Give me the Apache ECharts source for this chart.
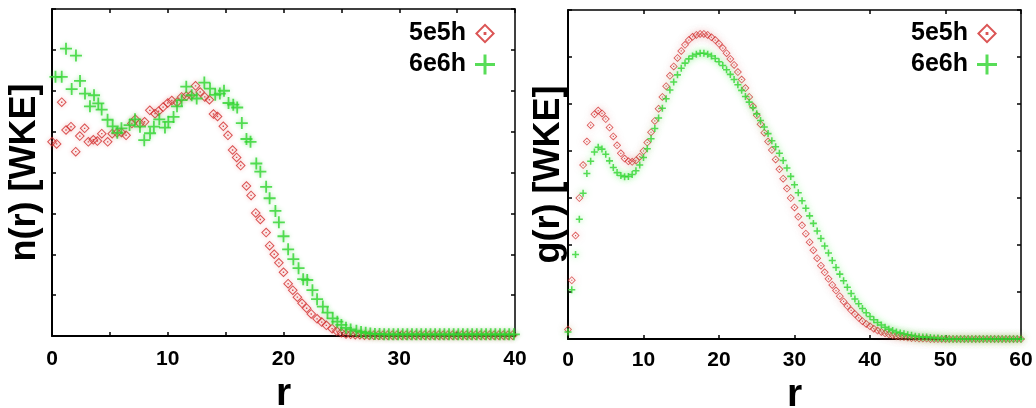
<!DOCTYPE html>
<html>
<head>
<meta charset="utf-8">
<script src="https://cdn.jsdelivr.net/npm/echarts@6/dist/echarts.min.js"></script>
<style>
  html, body { margin: 0; padding: 0; background: #fff; }
  #chart { width: 1036px; height: 408px; }
</style>
</head>
<body>
<div id="chart"></div>
<script>
// Series names shared by both panels
const seriesNames = ['5e5h', '6e6h'];

// Left panel: n(r) samples, 5e5h
const nR_5e5h = [0.0, 0.4, 0.84, 1.21, 1.64, 2.05, 2.4, 2.82, 3.14, 3.57, 3.92, 4.3, 4.81, 5.2, 5.62, 6.0, 6.4, 6.9, 7.2, 7.6,
  8.0, 8.45, 8.9, 9.2, 9.6, 10.0, 10.35, 10.8, 11.2, 11.6, 12.0, 12.4, 12.8, 13.2, 13.6, 13.95, 14.3, 14.8, 15.2, 15.6,
  15.95, 16.3, 16.8, 17.2, 17.6, 18.0, 18.5, 18.8, 19.2, 19.6, 20.0, 20.4, 20.8, 21.2, 21.6, 22.0, 22.4, 22.9, 23.3, 23.7,
  24.2, 24.6, 25.0, 25.4,
  25.8, 26.2, 26.6, 27.0, 27.4, 27.8, 28.2, 28.6, 29.0, 29.4, 29.8, 30.2, 30.6, 31.0, 31.4, 31.8, 32.2, 32.6,
  33.0, 33.4, 33.8, 34.2, 34.6, 35.0, 35.4, 35.8, 36.2, 36.6, 37.0, 37.4, 37.8, 38.2, 38.6, 39.0, 39.4, 39.8];
const nV_5e5h = [4.75, 4.70, 5.72, 5.04, 5.12, 4.51, 4.89, 5.08, 4.75, 4.80, 4.77, 4.95, 4.75, 4.95, 4.97, 4.98, 4.91, 5.2, 5.3, 5.2,
  5.24, 5.52, 5.44, 5.5, 5.6, 5.7, 5.76, 5.72, 5.85, 5.87, 5.89, 6.12, 5.97, 5.85, 5.78, 5.43, 5.37, 5.13, 4.91, 4.55,
  4.37, 4.17, 3.67, 3.44, 3.01, 2.85, 2.53, 2.21, 2.0, 1.79, 1.56, 1.28, 1.12, 0.95, 0.8, 0.68, 0.54, 0.42, 0.34, 0.26,
  0.18, 0.12, 0.08, 0.05,
  0.04, 0.03, 0.03, 0.02, 0.02, 0.02, 0.02, 0.02, 0.02, 0.02, 0.02, 0.02, 0.02, 0.02, 0.02, 0.02, 0.02, 0.02,
  0.02, 0.02, 0.02, 0.02, 0.02, 0.02, 0.02, 0.02, 0.02, 0.02, 0.02, 0.02, 0.02, 0.02, 0.02, 0.02, 0.02, 0.02];

// Left panel: n(r) samples, 6e6h
const nR_6e6h = [0.3, 0.84, 1.21, 1.7, 2.07, 2.42, 2.85, 3.28, 3.63, 4.0, 4.29, 4.8, 5.24, 5.64, 6.0, 6.7, 7.17, 7.6, 7.97, 8.47,
  8.8, 9.27, 9.76, 10.05, 10.5, 10.8, 11.2, 11.6, 12.07, 12.5, 13.16, 13.65, 14.1, 14.5, 14.86, 15.25, 15.66, 16.0, 16.4, 16.8,
  17.15, 17.65, 18.0, 18.5, 18.8, 19.3, 19.6, 20.0, 20.4, 20.85, 21.3, 21.7, 22.05, 22.5, 22.9, 23.4, 23.8, 24.25, 24.65, 25.0,
  25.4, 25.8, 26.3, 26.7, 27.1, 27.5,
  27.9, 28.3, 28.7, 29.1, 29.5, 29.9, 30.3, 30.7, 31.1, 31.5, 31.9, 32.3, 32.7, 33.1, 33.5, 33.9,
  34.3, 34.7, 35.1, 35.5, 35.9, 36.3, 36.7, 37.1, 37.5, 37.9, 38.3, 38.7, 39.1, 39.5, 39.9];
const nV_6e6h = [6.34, 6.34, 7.03, 6.04, 6.86, 6.24, 5.93, 5.62, 5.89, 5.69, 5.54, 5.29, 5.13, 4.97, 5.08, 5.16, 5.3, 5.12, 4.79, 4.96,
  5.12, 5.3, 5.1, 5.24, 5.36, 5.62, 5.77, 6.1, 5.89, 5.81, 6.2, 6.05, 5.9, 5.93, 6.0, 5.7, 5.66, 5.59, 5.21, 4.82,
  4.75, 4.22, 4.02, 3.65, 3.37, 3.06, 2.78, 2.44, 2.12, 1.88, 1.66, 1.39, 1.37, 1.12, 0.9, 0.72, 0.57, 0.43, 0.35, 0.27,
  0.2, 0.16, 0.13, 0.1, 0.08, 0.06,
  0.05, 0.05, 0.04, 0.04, 0.04, 0.04, 0.04, 0.04, 0.04, 0.04, 0.04, 0.04, 0.04, 0.04, 0.04, 0.04,
  0.04, 0.04, 0.04, 0.04, 0.04, 0.04, 0.04, 0.04, 0.04, 0.04, 0.04, 0.04, 0.04, 0.04, 0.04];

// Right panel: g(r) sampled on a common r grid
const gR = [0, 0.5, 1, 1.5, 2, 2.5, 3, 3.5, 4, 4.5, 5, 5.5, 6, 6.5, 7, 7.5, 8, 8.5, 9, 9.5,
  10, 10.5, 11, 11.5, 12, 12.5, 13, 13.5, 14, 14.5, 15, 15.5, 16, 16.5, 17, 17.5, 18, 18.5, 19, 19.5,
  20, 20.5, 21, 21.5, 22, 22.5, 23, 23.5, 24, 24.5, 25, 25.5, 26, 26.5, 27, 27.5, 28, 28.5, 29, 29.5,
  30, 30.5, 31, 31.5, 32, 32.5, 33, 33.5, 34, 34.5, 35, 35.5, 36, 36.5, 37, 37.5, 38, 38.5, 39, 39.5,
  40, 40.5, 41, 41.5, 42, 42.5, 43, 43.5, 44, 44.5, 45, 45.5, 46, 46.5, 47, 47.5, 48, 48.5, 49, 49.5,
  50, 50.5, 51, 51.5, 52, 52.5, 53, 53.5, 54, 54.5, 55, 55.5, 56, 56.5, 57, 57.5, 58, 58.5, 59, 59.5, 60];
const gV_5e5h = [0.2, 1.25, 2.2, 3.0, 3.7, 4.2, 4.55, 4.78, 4.86, 4.8,
  4.68, 4.5, 4.31, 4.12, 3.95, 3.84, 3.78, 3.77, 3.8, 3.88,
  4.0, 4.18, 4.4, 4.64, 4.9, 5.15, 5.38, 5.6, 5.8, 5.98,
  6.13, 6.26, 6.36, 6.43, 6.47, 6.49, 6.49, 6.47, 6.42, 6.36,
  6.28, 6.19, 6.08, 5.96, 5.83, 5.68, 5.52, 5.34, 5.15, 4.95,
  4.76, 4.57, 4.39, 4.2, 4.02, 3.82, 3.61, 3.41, 3.2, 3.0,
  2.8, 2.6, 2.42, 2.24, 2.06, 1.89, 1.72, 1.56, 1.42, 1.28,
  1.15, 1.03, 0.91, 0.8, 0.7, 0.61, 0.53, 0.45, 0.38, 0.32,
  0.27, 0.22, 0.18, 0.15, 0.12, 0.1, 0.08, 0.06, 0.05, 0.04,
  0.03, 0.02, 0.02, 0.01, 0.01, 0.01, 0, 0, 0, 0,
  0, 0, 0, 0, 0, 0, 0, 0, 0, 0,
  0, 0, 0, 0, 0, 0, 0, 0, 0, 0, 0];
const gV_6e6h = [0.15, 1.05, 1.8, 2.55, 3.1, 3.52, 3.78, 3.98, 4.08, 4.04,
  3.93, 3.79, 3.65, 3.54, 3.48, 3.45, 3.46, 3.5, 3.58, 3.7,
  3.86, 4.05, 4.26, 4.48, 4.7, 4.91, 5.11, 5.3, 5.47, 5.62,
  5.76, 5.87, 5.96, 6.02, 6.06, 6.08, 6.08, 6.06, 6.02, 5.97,
  5.9, 5.82, 5.73, 5.63, 5.52, 5.41, 5.29, 5.16, 5.04, 4.92,
  4.79, 4.65, 4.51, 4.37, 4.22, 4.09, 3.95, 3.8, 3.64, 3.46,
  3.28, 3.11, 2.94, 2.78, 2.62, 2.46, 2.3, 2.14, 1.98, 1.83,
  1.67, 1.52, 1.38, 1.24, 1.1, 0.97, 0.85, 0.75, 0.65, 0.56,
  0.48, 0.41, 0.35, 0.3, 0.25, 0.21, 0.18, 0.15, 0.13, 0.11,
  0.09, 0.08, 0.06, 0.05, 0.04, 0.04, 0.03, 0.02, 0.02, 0.01,
  0.01, 0, 0, 0, 0, 0, 0, 0, 0, 0,
  0, 0, 0, 0, 0, 0, 0, 0, 0, 0, 0];

// Tick labels printed under each panel
const nTickLabels = [0, 10, 20, 30, 40];
const gTickLabels = [0, 10, 20, 30, 40, 50, 60];

const FONT = '"Liberation Sans", Arial, Helvetica, sans-serif';
const RED = '#d22a2a';
const GREEN = '#2ed42e';
// Hollow diamond with a centre dot, and a thin plus sign
const DIAMOND = 'path://M0,-10L10,0L0,10L-10,0Z M0,-7.2L-7.2,0L0,7.2L7.2,0Z M-1.4,-1.4L1.4,-1.4L1.4,1.4L-1.4,1.4Z';
const PLUS = 'path://M-1.5,-10L1.5,-10L1.5,-1.5L10,-1.5L10,1.5L1.5,1.5L1.5,10L-1.5,10L-1.5,1.5L-10,1.5L-10,-1.5L-1.5,-1.5Z';
const PLUS_BOLD = 'path://M-2.2,-10L2.2,-10L2.2,-2.2L10,-2.2L10,2.2L2.2,2.2L2.2,10L-2.2,10L-2.2,2.2L-10,2.2L-10,-2.2L-2.2,-2.2Z';

const zip = (xs, ys) => xs.slice(0, Math.min(xs.length, ys.length)).map((x, i) => [x, ys[i]]);

const boldText = (size) => ({ fontSize: size, fontWeight: 'bold', color: '#000', fontFamily: FONT });

function bottomAxis(grid, max, interval, labels, nameGap, labelMargin) {
  return {
    gridIndex: grid, type: 'value', position: 'bottom', min: 0, max: max, interval: interval,
    axisLine: { onZero: false, lineStyle: { color: '#000', width: 2 } },
    axisTick: { inside: true, length: 4, lineStyle: { color: '#000', width: 1.5 } },
    axisLabel: Object.assign({ margin: labelMargin, showMinLabel: true, showMaxLabel: true,
      formatter: v => (labels.indexOf(v) >= 0 ? String(v) : '') }, boldText(21)),
    splitLine: { show: false },
    name: 'r', nameLocation: 'middle', nameGap: nameGap, nameTextStyle: boldText(39)
  };
}
function topAxis(grid, max, interval) {
  return {
    gridIndex: grid, type: 'value', position: 'top', min: 0, max: max, interval: interval,
    axisLine: { onZero: false, lineStyle: { color: '#000', width: 1.5 } },
    axisTick: { inside: true, length: 4, lineStyle: { color: '#000', width: 1.5 } },
    axisLabel: { show: false }, splitLine: { show: false }
  };
}
function leftAxis(grid, max, name, nameGap) {
  return {
    gridIndex: grid, type: 'value', position: 'left', min: 0, max: max, interval: 1,
    axisLine: { onZero: false, lineStyle: { color: '#000', width: 2 } },
    axisTick: { inside: true, length: 4, lineStyle: { color: '#000', width: 1.5 } },
    axisLabel: { show: false }, splitLine: { show: false },
    name: name, nameLocation: 'middle', nameGap: nameGap, nameTextStyle: boldText(36)
  };
}
function rightAxis(grid, max) {
  return {
    gridIndex: grid, type: 'value', position: 'right', min: 0, max: max, interval: 1,
    axisLine: { onZero: false, lineStyle: { color: '#000', width: 1.5 } },
    axisTick: { inside: true, length: 4, lineStyle: { color: '#000', width: 1.5 } },
    axisLabel: { show: false }, splitLine: { show: false }
  };
}
function legendBox(right) {
  return {
    orient: 'vertical', right: right, top: 21, align: 'right', padding: 0,
    itemWidth: 20, itemHeight: 20, itemGap: 6, selectedMode: false,
    textStyle: Object.assign({ padding: [0, 4, 0, 0] }, boldText(25)),
    data: [{ name: seriesNames[0], icon: DIAMOND }, { name: seriesNames[1], icon: PLUS }]
  };
}
function dots(name, xi, yi, data, symbol, size, color, glow, blur) {
  return {
    type: 'scatter', name: name, xAxisIndex: xi, yAxisIndex: yi, data: data,
    symbol: symbol, symbolSize: size, silent: true,
    itemStyle: { color: color, shadowBlur: blur, shadowColor: glow }
  };
}

const chart = echarts.init(document.getElementById('chart'), null, { renderer: 'canvas' });
chart.setOption({
  animation: false,
  backgroundColor: '#fff',
  grid: [
    { left: 52, right: 521, top: 9, bottom: 72, outerBoundsMode: 'none', containLabel: false },
    { left: 568, right: 15, top: 10, bottom: 69, outerBoundsMode: 'none', containLabel: false }
  ],
  xAxis: [
    bottomAxis(0, 40, 5, nTickLabels, 34, 13),
    topAxis(0, 40, 5),
    bottomAxis(1, 60, 10, gTickLabels, 32, 11),
    topAxis(1, 60, 10)
  ],
  yAxis: [
    leftAxis(0, 8, 'n(r) [WKE]', 9),
    rightAxis(0, 8),
    leftAxis(1, 7, 'g(r) [WKE]', 1),
    rightAxis(1, 7)
  ],
  legend: [legendBox(541), legendBox(39)],
  series: [
    dots(seriesNames[0], 0, 0, zip(nR_5e5h, nV_5e5h), DIAMOND, 10, RED, 'rgba(225,90,90,0.6)', 4),
    dots(seriesNames[1], 0, 0, zip(nR_6e6h, nV_6e6h), PLUS, 12, GREEN, 'rgba(80,220,80,0.6)', 4),
    dots(seriesNames[0], 2, 2, zip(gR, gV_5e5h), DIAMOND, 8, RED, 'rgba(225,110,110,0.7)', 6),
    dots(seriesNames[1], 2, 2, zip(gR, gV_6e6h), PLUS_BOLD, 7, GREEN, 'rgba(80,230,80,0.7)', 6)
  ]
});
</script>
</body>
</html>
